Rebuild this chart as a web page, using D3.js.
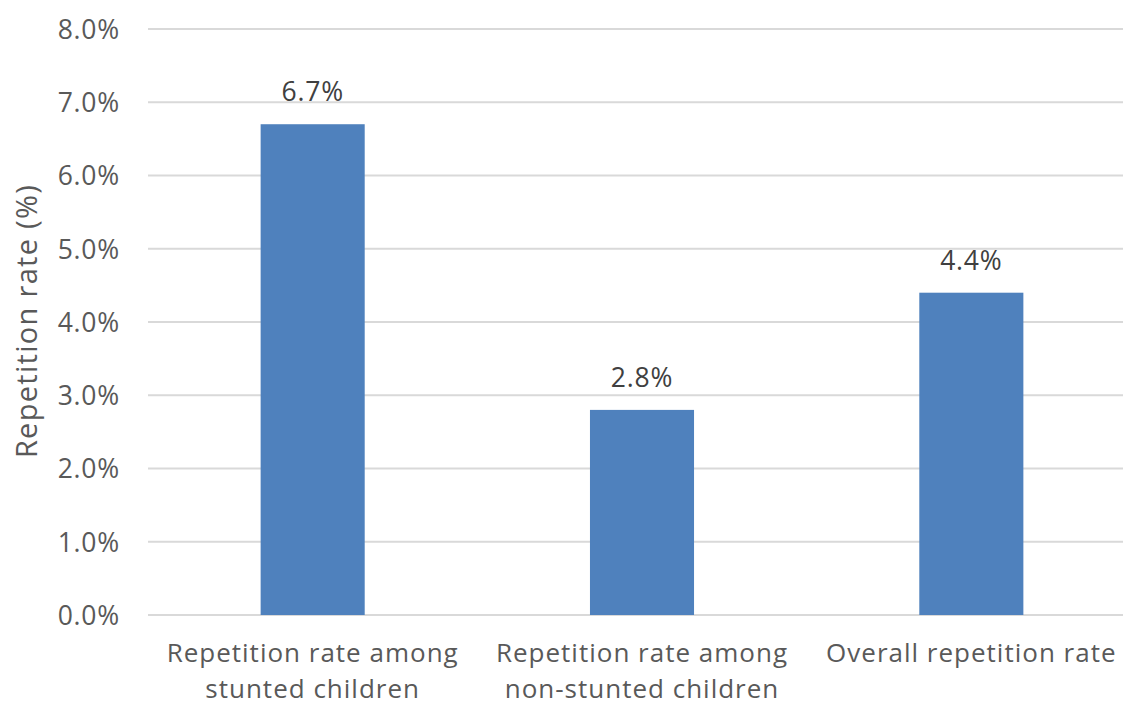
<!DOCTYPE html>
<html><head><meta charset="utf-8">
<script src="https://cdn.jsdelivr.net/npm/d3@7"></script>
<style>html,body{margin:0;padding:0;background:#fff;}</style>
</head><body>
<svg id="c" width="1123" height="707"></svg>
<script>
const categories = [
  ["Repetition rate among", "stunted children"],
  ["Repetition rate among", "non-stunted children"],
  ["Overall repetition rate"]
];
const values = [6.7, 2.8, 4.4];
const valueLabels = ["6.7%", "2.8%", "4.4%"];
const yTicks = [0, 1, 2, 3, 4, 5, 6, 7, 8];
const yLabel = "Repetition rate (%)";

const svg = d3.select("#c");
const font = "'Open Sans', sans-serif";
const textColor = "#595959";
const fs = 26.5, ls = "0.8px";

const x = d3.scaleBand().domain(d3.range(categories.length)).range([148, 1136]).paddingInner(0.684).paddingOuter(0.342);
const y = d3.scaleLinear().domain([0, 8]).range([615, 29]);

// gridlines
svg.append("g").selectAll("line").data(yTicks).join("line")
  .attr("x1", 148).attr("x2", 1123)
  .attr("y1", d => y(d)).attr("y2", d => y(d))
  .attr("stroke", "#d9d9d9").attr("stroke-width", 2);

// y axis tick labels
const yAxis = d3.axisLeft(y).tickValues(yTicks).tickFormat(d => d.toFixed(1) + "%").tickSize(0).tickPadding(0);
const ya = svg.append("g").attr("transform", "translate(120,0)").call(yAxis);
ya.select(".domain").remove();
ya.selectAll("text").attr("font-family", font).attr("font-size", fs).attr("fill", textColor).attr("dy", "0.35em").style("letter-spacing", ls);

// bars
svg.append("g").selectAll("rect").data(values).join("rect")
  .attr("x", (d, i) => x(i)).attr("width", x.bandwidth())
  .attr("y", d => y(d)).attr("height", d => y(0) - y(d))
  .attr("fill", "#4f81bd");

// value labels
svg.append("g").selectAll("text").data(values).join("text")
  .attr("x", (d, i) => x(i) + x.bandwidth() / 2)
  .attr("y", d => y(d) - 23)
  .attr("text-anchor", "middle")
  .attr("font-family", font).attr("font-size", fs).attr("fill", "#404040")
  .style("letter-spacing", ls)
  .text((d, i) => valueLabels[i]);

// category labels (one text element per line)
const lines = [];
categories.forEach((c, i) => c.forEach((t, j) => lines.push({ i, j, t })));
svg.append("g").selectAll("text").data(lines).join("text")
  .attr("x", d => x(d.i) + x.bandwidth() / 2)
  .attr("y", d => 662 + d.j * 36)
  .attr("text-anchor", "middle")
  .attr("font-family", font).attr("font-size", 26).attr("fill", textColor)
  .style("letter-spacing", "1px")
  .text(d => d.t);

// y axis title
svg.append("text")
  .attr("transform", "translate(37,321) rotate(-90)")
  .attr("text-anchor", "middle")
  .attr("font-family", font).attr("font-size", 29).attr("fill", textColor)
  .style("letter-spacing", "1.3px")
  .text(yLabel);
</script>
</body></html>
